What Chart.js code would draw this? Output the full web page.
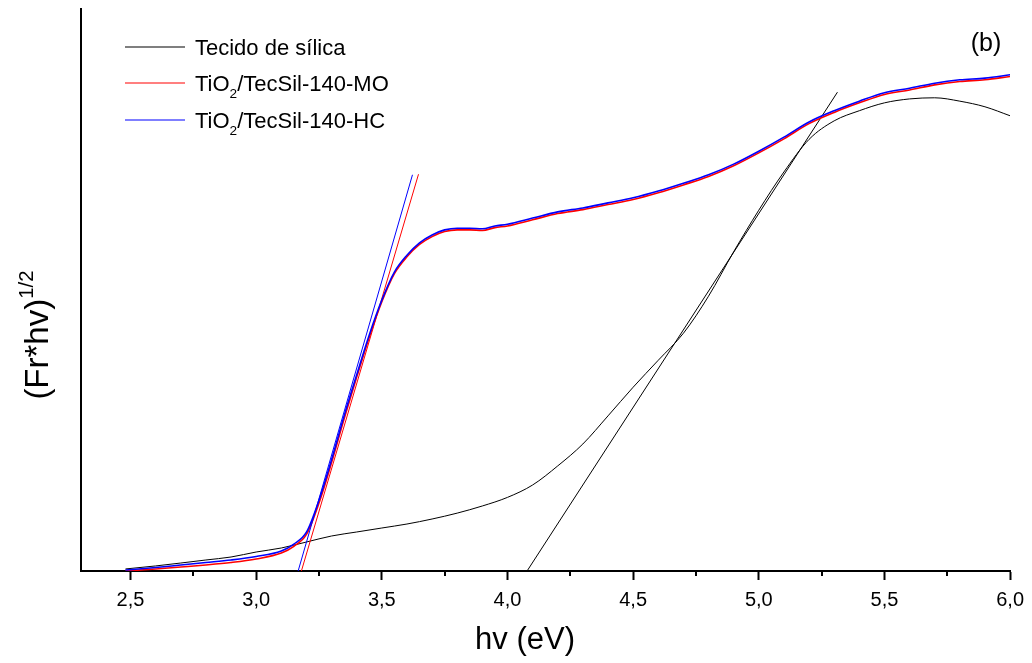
<!DOCTYPE html>
<html>
<head>
<meta charset="utf-8">
<script src="https://cdn.jsdelivr.net/npm/chart.js@4.4.1/dist/chart.umd.min.js"></script>
<style>
html, body { margin: 0; padding: 0; background: #fff; }
#grafico { display: block; }
</style>
</head>
<body>
<canvas id="grafico" width="1032" height="663"></canvas>
<script>
// energia (eV) e (Fr*hv)^1/2 em unidades arbitrárias (0-100)
const energiaSilica = [2.48, 2.6, 2.7, 2.8, 2.9, 3.0, 3.1, 3.2, 3.3, 3.4, 3.5, 3.6, 3.7, 3.8, 3.9, 4.0, 4.1, 4.2, 4.3, 4.4, 4.5, 4.6, 4.7, 4.8, 4.9, 5.0, 5.1, 5.2, 5.3, 5.4, 5.5, 5.6, 5.7, 5.8, 5.9, 6.0];
const silica = [0.36, 0.9, 1.42, 1.96, 2.49, 3.38, 4.09, 5.16, 6.23, 6.94, 7.65, 8.36, 9.25, 10.3, 11.57, 13.1, 15.3, 18.7, 22.6, 27.6, 32.7, 37.5, 42.3, 48.9, 56.8, 64.2, 71.0, 76.8, 80.1, 81.9, 83.3, 84.0, 84.2, 83.6, 82.6, 81.0];

const energiaTiO2 = [2.48, 2.6, 2.7, 2.8, 2.9, 3.0, 3.1, 3.15, 3.2, 3.25, 3.3, 3.35, 3.4, 3.45, 3.5, 3.55, 3.6, 3.65, 3.7, 3.75, 3.8, 3.85, 3.9, 3.95, 4.0, 4.1, 4.2, 4.3, 4.4, 4.5, 4.6, 4.7, 4.8, 4.9, 5.0, 5.1, 5.2, 5.3, 5.4, 5.5, 5.6, 5.7, 5.8, 5.9, 6.0];
const tio2MO = [0.0, 0.36, 0.71, 1.07, 1.51, 2.14, 3.2, 4.4, 6.5, 12.1, 19.3, 27.1, 34.5, 41.6, 47.9, 52.9, 55.9, 58.1, 59.5, 60.4, 60.7, 60.7, 60.6, 61.1, 61.4, 62.5, 63.6, 64.3, 65.2, 66.1, 67.3, 68.7, 70.2, 72.1, 74.4, 76.9, 79.6, 81.6, 83.3, 84.8, 85.6, 86.5, 87.1, 87.4, 88.0];
const tio2HC = [0.18, 0.62, 1.07, 1.51, 1.96, 2.58, 3.56, 4.8, 6.9, 12.6, 19.8, 27.6, 34.9, 42.0, 48.2, 53.2, 56.2, 58.4, 59.8, 60.7, 61.0, 61.0, 60.9, 61.4, 61.7, 62.8, 63.9, 64.6, 65.5, 66.4, 67.6, 69.0, 70.5, 72.4, 74.7, 77.2, 79.9, 81.9, 83.6, 85.1, 85.9, 86.8, 87.4, 87.7, 88.3];

// retas tangentes (extrapolação do band gap)
const tangenteSilicaX = [4.078, 5.313];
const tangenteSilicaY = [0, 85.2];
const tangenteMOX = [3.180, 3.646];
const tangenteMOY = [0, 70.6];
const tangenteHCX = [3.167, 3.622];
const tangenteHCY = [0, 70.5];

const xTicks = [2.5, 3.0, 3.5, 4.0, 4.5, 5.0, 5.5, 6.0];
const xTicksMenores = [2.75, 3.25, 3.75, 4.25, 4.75, 5.25, 5.75];

const fonte = '"Liberation Sans", Arial, sans-serif';

function pontos(xs, ys) {
    return xs.map((x, i) => ({ x: x, y: ys[i] }));
}

function serie(xs, ys, cor, largura, ordem) {
    return {
        data: pontos(xs, ys),
        borderColor: cor,
        borderWidth: largura,
        pointRadius: 0,
        cubicInterpolationMode: 'monotone',
        fill: false,
        order: ordem
    };
}

// desenha texto com partes em sub/sobrescrito, retorna a largura
function textoComIndice(ctx, partes, x, y, tamanho, medir) {
    let pos = x;
    partes.forEach(p => {
        const t = p.indice ? tamanho * 0.62 : tamanho;
        ctx.font = t + 'px ' + fonte;
        const dy = p.indice === 'sub' ? tamanho * 0.3 : (p.indice === 'sup' ? -tamanho * 0.45 : 0);
        if (!medir) ctx.fillText(p.t, pos, y + dy);
        pos += ctx.measureText(p.t).width;
    });
    return pos - x;
}

const extras = {
    id: 'extras',
    afterDraw(chart) {
        const ctx = chart.ctx;
        const sx = chart.scales.x;
        const base = chart.chartArea.bottom;

        // ticks menores do eixo x
        ctx.save();
        ctx.strokeStyle = '#000';
        ctx.lineWidth = 2;
        xTicksMenores.forEach(v => {
            const px = Math.round(sx.getPixelForValue(v));
            ctx.beginPath();
            ctx.moveTo(px, base);
            ctx.lineTo(px, base + 5);
            ctx.stroke();
        });
        ctx.restore();

        // legenda
        ctx.save();
        ctx.fillStyle = '#000';
        ctx.textBaseline = 'alphabetic';
        const itens = [
            { cor: '#000', partes: [{ t: 'Tecido de sílica' }] },
            { cor: '#ff0000', partes: [{ t: 'TiO' }, { t: '2', indice: 'sub' }, { t: '/TecSil-140-MO' }] },
            { cor: '#0000ff', partes: [{ t: 'TiO' }, { t: '2', indice: 'sub' }, { t: '/TecSil-140-HC' }] }
        ];
        const linhasY = [47, 83, 120];
        itens.forEach((item, i) => {
            const ly = linhasY[i];
            ctx.strokeStyle = item.cor;
            ctx.lineWidth = 1.2;
            ctx.beginPath();
            ctx.moveTo(125, ly);
            ctx.lineTo(185, ly);
            ctx.stroke();
            textoComIndice(ctx, item.partes, 195, ly + 8, 22);
        });

        // rótulo (b)
        ctx.font = '25px ' + fonte;
        ctx.textAlign = 'center';
        ctx.fillText('(b)', 986, 51);

        // título do eixo x
        ctx.font = '31px ' + fonte;
        ctx.textBaseline = 'middle';
        ctx.fillText('hv (eV)', 525, 640);
        ctx.textAlign = 'left';
        ctx.textBaseline = 'alphabetic';

        // título do eixo y
        ctx.translate(48, 335);
        ctx.rotate(-Math.PI / 2);
        const partesY = [{ t: '(Fr*hv)' }, { t: '1/2', indice: 'sup' }];
        const larg = textoComIndice(ctx, partesY, 0, 0, 33, true);
        textoComIndice(ctx, partesY, -larg / 2, 0, 33);
        ctx.restore();
    }
};

const ctx = document.getElementById('grafico').getContext('2d');
new Chart(ctx, {
    type: 'line',
    data: {
        datasets: [
            serie(energiaSilica, silica, '#000000', 1, 3),
            serie(energiaTiO2, tio2MO, '#ff0000', 1.6, 1),
            serie(energiaTiO2, tio2HC, '#0000ff', 1.6, 0),
            serie(tangenteSilicaX, tangenteSilicaY, '#000000', 1, 2),
            serie(tangenteMOX, tangenteMOY, '#ff0000', 1, 1),
            serie(tangenteHCX, tangenteHCY, '#0000ff', 1, 0)
        ]
    },
    options: {
        responsive: false,
        animation: false,
        layout: { padding: { top: 9, right: 21, left: 0, bottom: 0 } },
        plugins: {
            legend: { display: false },
            tooltip: { enabled: false }
        },
        scales: {
            x: {
                type: 'linear',
                min: 2.303,
                max: 6.0,
                afterBuildTicks: axis => {
                    axis.ticks = xTicks.map(v => ({ value: v }));
                },
                afterFit: axis => { axis.height = 92; },
                grid: {
                    drawOnChartArea: false,
                    drawTicks: true,
                    tickLength: 9,
                    tickColor: '#000',
                    tickWidth: 2
                },
                border: { display: true, color: '#000', width: 2 },
                ticks: {
                    color: '#000',
                    padding: 8,
                    maxRotation: 0,
                    autoSkip: false,
                    font: { family: fonte, size: 20 },
                    callback: v => v.toFixed(1).replace('.', ',')
                }
            },
            y: {
                min: 0,
                max: 100,
                afterFit: axis => { axis.width = 81; },
                grid: { drawOnChartArea: false, drawTicks: false },
                border: { display: true, color: '#000', width: 2 },
                ticks: { display: false }
            }
        }
    },
    plugins: [extras]
});
</script>
</body>
</html>
